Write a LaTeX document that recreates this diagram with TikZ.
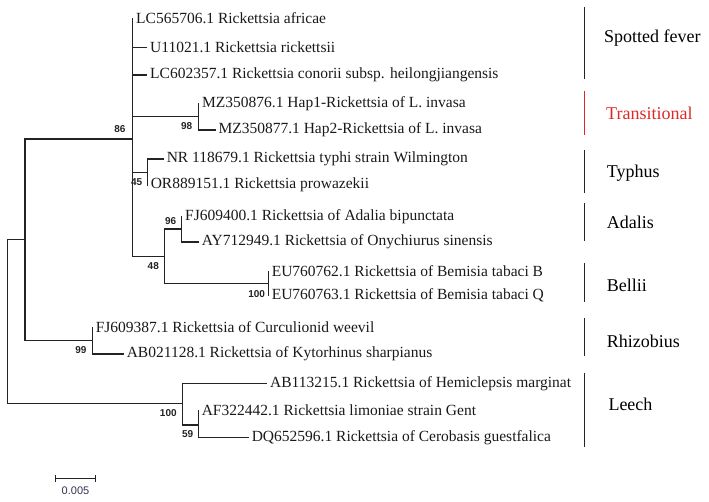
\documentclass[tikz,border=0pt]{standalone}
\usepackage{fontspec}
\setmainfont{Liberation Serif}
\newfontfamily\bsfont{Liberation Sans}
\definecolor{transred}{RGB}{222,40,40}
\definecolor{treegray}{RGB}{35,35,35}
\begin{document}
\begin{tikzpicture}[x=1pt,y=-1pt,
  branch/.style={line width=1.5pt, draw=treegray, line cap=rect},
  leaf/.style={anchor=west, inner xsep=3.3pt, inner ysep=0pt, text=black!90, font=\rmfamily\fontsize{15.5}{18}\selectfont},
  boot/.style={font=\bsfont\bfseries\fontsize{10}{12}\selectfont, inner sep=0pt, text=treegray},
  bar/.style={line width=1.5pt, draw=treegray},
  grp/.style={anchor=west, inner sep=0pt, font=\rmfamily\fontsize{18}{21}\selectfont},
]
\useasboundingbox (0,0) rectangle (709,502);

% internal nodes
\coordinate (root) at (7.3,321.5);
\coordinate (A) at (25,239.5);
\coordinate (B) at (132.7,139);
\coordinate (H) at (198.7,116.7);
\coordinate (T) at (147.3,172.3);
\coordinate (C) at (164.3,256.5);
\coordinate (Ad) at (181.7,229);
\coordinate (Be) at (268.3,283.5);
\coordinate (R) at (92.3,340.7);
\coordinate (D) at (182.7,403.3);
\coordinate (E) at (198.3,425);

% leaves
\node[leaf] (l1) at (132.7,18.5) {LC565706.1 Rickettsia africae};
\node[leaf] (l2) at (146.7,47.3) {U11021.1 Rickettsia rickettsii};
\node[leaf] (l3) at (146.7,75) {LC602357.1 Rickettsia conorii subsp. heilongjiangensis};
\node[leaf] (l4) at (198.7,104) {MZ350876.1 Hap1-Rickettsia of L. invasa};
\node[leaf] (l5) at (215,130) {MZ350877.1 Hap2-Rickettsia of L. invasa};
\node[leaf] (l6) at (163.3,159) {NR 118679.1 Rickettsia typhi strain Wilmington};
\node[leaf] (l7) at (147.3,185) {OR889151.1 Rickettsia prowazekii};
\node[leaf] (l8) at (181.7,216.7) {FJ609400.1 Rickettsia of Adalia bipunctata};
\node[leaf] (l9) at (198.3,242) {AY712949.1 Rickettsia of Onychiurus sinensis};
\node[leaf] (l10) at (268.3,271.5) {EU760762.1 Rickettsia of Bemisia tabaci B};
\node[leaf] (l11) at (268.3,295.5) {EU760763.1 Rickettsia of Bemisia tabaci Q};
\node[leaf] (l12) at (92.3,327.5) {FJ609387.1 Rickettsia of Curculionid weevil};
\node[leaf] (l13) at (123.3,354) {AB021128.1 Rickettsia of Kytorhinus sharpianus};
\node[leaf] (l14) at (266.7,383.3) {AB113215.1 Rickettsia of Hemiclepsis marginat};
\node[leaf] (l15) at (198.3,410.5) {AF322442.1 Rickettsia limoniae strain Gent};
\node[leaf] (l16) at (248.3,437.3) {DQ652596.1 Rickettsia of Cerobasis guestfalica};

% branches
\draw[branch] (root) |- (A);
\draw[branch] (root) |- (D);
\draw[branch] (A) |- (B);
\draw[branch] (A) |- (R);
\draw[branch] (B) |- (l1.west);
\draw[branch] (B) |- (l2.west);
\draw[branch] (B) |- (l3.west);
\draw[branch] (B) |- (H);
\draw[branch] (B) |- (T);
\draw[branch] (B) |- (C);
\draw[branch] (H) |- (l4.west);
\draw[branch] (H) |- (l5.west);
\draw[branch] (T) |- (l6.west);
\draw[branch] (T) |- (l7.west);
\draw[branch] (C) |- (Ad);
\draw[branch] (C) |- (Be);
\draw[branch] (Ad) |- (l8.west);
\draw[branch] (Ad) |- (l9.west);
\draw[branch] (Be) |- (l10.west);
\draw[branch] (Be) |- (l11.west);
\draw[branch] (R) |- (l12.west);
\draw[branch] (R) |- (l13.west);
\draw[branch] (D) |- (l14.west);
\draw[branch] (D) |- (E);
\draw[branch] (E) |- (l15.west);
\draw[branch] (E) |- (l16.west);

% bootstrap values
\node[boot] (b86) at (120,129.3) {86};
\node[boot] (b98) at (186.7,125.7) {98};
\node[boot] (b45) at (136.7,182.5) {45};
\node[boot] (b96) at (170.7,220.7) {96};
\node[boot] (b48) at (153.3,266) {48};
\node[boot] (b100a) at (256.7,294) {100};
\node[boot] (b99) at (81,350) {99};
\node[boot] (b100b) at (168.3,413.3) {100};
\node[boot] (b59) at (187.7,434) {59};

% group bars and labels
\draw[bar] (584.3,7.3) -- (584.3,79);
\node[grp] (g1) at (604,38.3) {Spotted fever};
\draw[bar, draw=transred] (584.3,90.7) -- (584.3,135);
\node[grp, text=transred] (g2) at (606,113.3) {Transitional};
\draw[bar] (584.3,150) -- (584.3,192.7);
\node[grp] (g3) at (606.7,173.3) {Typhus};
\draw[bar] (584.3,203.3) -- (584.3,240.7);
\node[grp] (g4) at (606.7,222.7) {Adalis};
\draw[bar] (584.3,263.3) -- (584.3,301.7);
\node[grp] (g5) at (606.7,285) {Bellii};
\draw[bar] (584.3,318.3) -- (584.3,356);
\node[grp] (g6) at (606.7,341.7) {Rhizobius};
\draw[bar] (584.3,372.7) -- (584.3,447.3);
\node[grp] (g7) at (608.3,404) {Leech};

% scale bar
\coordinate (s1) at (55.7,478.3);
\coordinate (s2) at (95.7,478.3);
\draw[line width=1.3pt, draw=treegray] (s1) -- (s2);
\draw[line width=1.3pt, draw=treegray] ([yshift=-3.3pt]s1) -- ([yshift=3.3pt]s1);
\draw[line width=1.3pt, draw=treegray] ([yshift=-3.3pt]s2) -- ([yshift=3.3pt]s2);
\node[inner sep=0pt, font=\bsfont\fontsize{11}{13}\selectfont, text={rgb,255:red,50;green,50;blue,80}] (sl) at (75.5,490.7) {0.005};
\end{tikzpicture}
\end{document}
